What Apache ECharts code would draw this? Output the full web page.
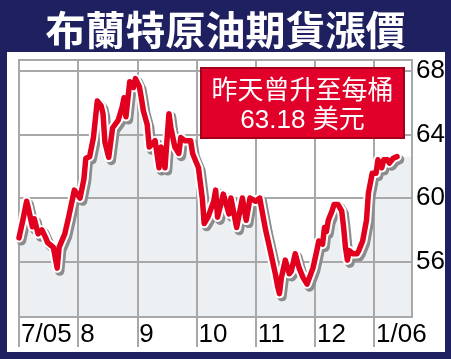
<!DOCTYPE html>
<html><head><meta charset="utf-8">
<script src="https://cdn.jsdelivr.net/npm/echarts@6/dist/echarts.min.js"></script>
<style>html,body{margin:0;padding:0;background:#1f2060}#c{width:451px;height:359px}</style>
</head><body><div id="c"></div>
<script>
const monthLabels = ['7/05','8','9','10','11','12','1/06'];
const monthTicks = [0,1,2,3,4,5,6];
const yTicks = [56,60,64,68];
const dates = [
'2005-07-01','2005-07-03','2005-07-05','2005-07-06','2005-07-08','2005-07-09','2005-07-11','2005-07-13','2005-07-15','2005-07-16',
'2005-07-19','2005-07-21','2005-07-22','2005-07-25','2005-07-27','2005-07-30',
'2005-08-02','2005-08-04','2005-08-05','2005-08-07','2005-08-09','2005-08-11','2005-08-13','2005-08-14','2005-08-15','2005-08-17',
'2005-08-19','2005-08-22','2005-08-24','2005-08-25','2005-08-26','2005-08-28','2005-08-30','2005-08-31',
'2005-09-02','2005-09-03','2005-09-04','2005-09-06','2005-09-07','2005-09-08','2005-09-10','2005-09-12','2005-09-13','2005-09-15',
'2005-09-17','2005-09-18','2005-09-20','2005-09-22','2005-09-23','2005-09-25','2005-09-28','2005-09-29',
'2005-10-02','2005-10-04','2005-10-05','2005-10-07','2005-10-10','2005-10-11','2005-10-12','2005-10-15','2005-10-18','2005-10-19',
'2005-10-22','2005-10-25','2005-10-27','2005-10-29',
'2005-11-01','2005-11-03','2005-11-06','2005-11-08','2005-11-11','2005-11-12','2005-11-13','2005-11-14','2005-11-16','2005-11-18',
'2005-11-19','2005-11-21','2005-11-23','2005-11-25','2005-11-27','2005-11-28','2005-11-30',
'2005-12-02','2005-12-03','2005-12-05','2005-12-06','2005-12-07','2005-12-08','2005-12-10','2005-12-11','2005-12-13','2005-12-15',
'2005-12-16','2005-12-17','2005-12-18','2005-12-19','2005-12-21','2005-12-23','2005-12-24','2005-12-26','2005-12-28','2005-12-29','2005-12-31',
'2006-01-02','2006-01-03','2006-01-05','2006-01-06','2006-01-08','2006-01-09','2006-01-11','2006-01-13'
];
const prices = [
57.5,58.6,59.8,59.3,58.2,58.7,57.75,58.0,57.5,57.2,
56.9,55.6,56.9,57.75,58.8,60.5,
60.0,61.2,62.5,62.6,63.8,66.1,65.8,65.3,63.5,62.55,
64.4,64.9,65.7,66.3,65.1,67.3,66.95,67.5,
67.0,66.3,65.5,64.6,63.2,63.2,63.6,61.9,63.2,61.9,
65.3,64.4,63.2,62.8,63.8,63.6,63.6,62.8,
61.9,60.0,58.4,58.8,59.8,60.5,58.8,60.25,59.0,60.0,
58.15,60.0,58.6,60.0,
59.8,60.0,58.0,56.9,55.2,54.5,54.0,55.0,56.1,55.25,
55.4,56.5,55.6,55.0,54.6,54.5,55.6,
56.7,57.3,57.1,58.15,57.9,58.6,59.2,59.6,59.6,59.2,
58.2,56.9,56.1,56.7,56.5,56.5,56.7,57.3,58.6,60.3,61.55,
61.55,62.4,61.9,62.4,62.4,62.2,62.5,62.6
];
const X_MAX = 6.64;

function toMonthPos(s){
  const p = s.split('-').map(Number);
  const idx = (p[0]-2005)*12 + (p[1]-7);
  const dim = new Date(Date.UTC(p[0], p[1], 0)).getUTCDate();
  return idx + (p[2]-1)/dim;
}
const pts = dates.map((d,i)=>[toMonthPos(d), prices[i]]);
const areaPts = pts.concat([[X_MAX, prices[prices.length-1]]]);

const grey = '#a8a8a8';
const chart = echarts.init(document.getElementById('c'), null, {renderer:'canvas'});
chart.setOption({
  backgroundColor:'#1f2060',
  animation:false,
  title:{text:'布蘭特原油期貨漲價', left:'center', top:5,
    textStyle:{color:'#fff', fontSize:40, fontWeight:'bold', fontFamily:"'Noto Sans CJK TC'",
      textShadowColor:'rgba(0,0,0,0.75)', textShadowOffsetX:2, textShadowOffsetY:2, textShadowBlur:0}},
  graphic:[
    {type:'rect', shape:{x:7,y:52,width:438,height:300}, style:{fill:'#fff'}, z:-100, silent:true},
    {type:'rect', shape:{x:201,y:68,width:203,height:70}, style:{fill:'#e0002a', stroke:'#a3001c', lineWidth:2}, z:100, silent:true},
    {type:'text', x:302.5, y:106, z:101, silent:true,
      style:{text:'昨天曾升至每桶\n63.18 美元', fill:'#fff', fontSize:26, fontFamily:"'Liberation Sans','Noto Sans CJK TC'",
        align:'center', verticalAlign:'middle', lineHeight:29}},
    {type:'rect', shape:{x:445,y:52,width:6,height:307}, style:{fill:'#1f2060'}, z:150, silent:true}
  ],
  grid:{left:19, top:60, right:39, bottom:42, show:true, borderColor:grey, borderWidth:2, backgroundColor:'transparent', z:1},
  xAxis:{type:'value', min:0, max:X_MAX, z:1,
    axisLine:{show:false},
    axisTick:{show:true, length:30, customValues:monthTicks, lineStyle:{color:grey, width:2}},
    axisLabel:{customValues:monthTicks, formatter:v=>monthLabels[Math.round(v)]||'', align:'left', margin:5,
      padding:[0,0,0,2], color:'#000', fontSize:26, fontFamily:"'Liberation Sans'"},
    splitLine:{show:true, lineStyle:{color:grey, width:2}}},
  yAxis:{type:'value', position:'right', min:52.53, max:68.67, z:1,
    axisLine:{show:false},
    axisTick:{show:false, customValues:yTicks},
    axisLabel:{customValues:yTicks, margin:4, color:'#000', fontSize:26, fontFamily:"'Liberation Sans'", align:'left'},
    splitLine:{show:true, lineStyle:{color:grey, width:2}}},
  series:[
    {type:'line', data:areaPts, showSymbol:false, silent:true, z:0,
      lineStyle:{width:0, opacity:0}, areaStyle:{color:'#edf0f3', opacity:1}},
    {type:'line', data:pts, showSymbol:false, silent:true, z:3,
      lineStyle:{color:'#fff', width:9.5, join:'round', cap:'round', shadowColor:'#8c8c8c', shadowOffsetX:2.5, shadowOffsetY:3, shadowBlur:0}},
    {type:'line', data:pts, showSymbol:false, silent:true, z:4,
      lineStyle:{color:'#e2001f', width:5.5, join:'round', cap:'round'}}
  ]
});
</script></body></html>
